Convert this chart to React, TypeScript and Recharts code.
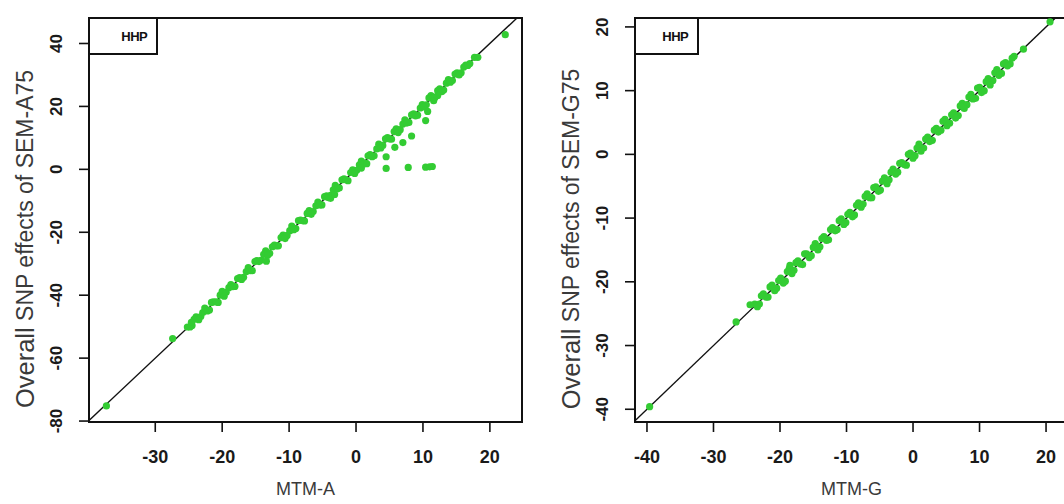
import { ScatterChart, Scatter, XAxis, YAxis, ReferenceLine, ReferenceArea, Label } from 'recharts'

// left panel: MTM-A vs SEM-A75
const mtmA = [
  -25.2, -24.5, -23.9, -23.2, -22.6, -21.9, -21.3, -20.6, -20.0, -19.4, -18.7, -18.1, -17.4, -16.8,
  -16.1, -15.5, -14.8, -14.2, -13.5, -12.9, -12.2, -11.6, -10.9, -10.3, -9.6, -9.0, -8.3, -7.7, -7.0,
  -6.4, -5.7, -5.1, -4.4, -3.8, -3.1, -2.5, -1.8, -1.2, -0.5, 0.1, 0.8, 1.4, 2.1, 2.7, 3.4, 4.0, 4.7,
  5.3, 6.0, 6.6, 7.3, 7.9, 8.6, 9.2, 9.9, 10.5, 11.2, 11.8, 12.5, 13.1, 13.8, 14.4, 15.1, 15.7, 16.4,
  17.0, 17.7,
  -24.8, -24.2, -23.5, -22.9, -22.2, -21.6, -20.9, -20.3, -19.7, -19.0, -18.4, -17.7, -17.1, -16.4,
  -15.8, -15.1, -14.5, -13.8, -13.2, -12.5, -11.9, -11.2, -10.6, -9.9, -9.3, -8.6, -8.0, -7.3, -6.7,
  -6.0, -5.4, -4.7, -4.1, -3.4, -2.8, -2.1, -1.5, -0.8, -0.2, 0.5, 1.1, 1.8, 2.4, 3.1, 3.7, 4.4, 5.0,
  5.7, 6.3, 7.0, 7.6, 8.3, 8.9, 9.6, 10.2, 10.9, 11.5, 12.2, 12.8, 13.5, 14.1, 14.8, 15.4, 16.1, 16.7,
  -37.3, -27.4, -24.6, 22.3, 18.2, 11.6, 12.2,
  4.5, 4.5, 5.8, 7.0, 8.3, 7.8, 10.4, 11.0, 11.4, 10.4, 10.7,
  -3.8, -3.2, -13.4, 0.8, 1.6,
]
const semA75 = [
  -50.1, -49.6, -46.9, -46.8, -44.1, -44.7, -42.1, -42.3, -38.8, -39.1, -36.6, -37.2, -34.4, -34.3,
  -31.2, -32.2, -29.0, -28.9, -25.9, -26.7, -24.1, -24.3, -20.9, -21.0, -18.0, -18.8, -16.1, -16.4, -13.1,
  -13.4, -10.4, -11.3, -8.4, -8.3, -5.1, -5.9, -3.0, -3.6, -0.2, -0.3, 2.6, 2.0, 4.7, 4.3, 8.0, 7.6, 10.1,
  9.6, 12.9, 12.6, 15.7, 14.9, 17.6, 17.2, 20.6, 20.5, 23.4, 22.8, 25.6, 25.2, 28.5, 28.2, 30.7, 30.7, 33.1,
  33.6, 35.6,
  -50.1, -47.7, -47.8, -45.5, -45.0, -42.3, -42.1, -40.0, -40.3, -37.6, -37.3, -34.7, -35.0, -32.5,
  -32.2, -29.3, -29.3, -27.0, -27.3, -24.6, -24.3, -21.7, -22.0, -19.5, -19.2, -16.3, -16.3, -14.0, -14.3,
  -11.6, -11.3, -8.7, -9.0, -6.5, -6.2, -3.3, -3.3, -1.0, -1.3, 1.4, 1.7, 4.3, 4.0, 6.5, 6.8, 9.7, 9.7,
  12.0, 11.7, 14.4, 14.7, 17.3, 17.0, 19.5, 19.8, 22.7, 22.7, 25.0, 24.7, 27.4, 27.7, 30.3, 30.0, 32.5, 33.0,
  -75.2, -53.8, -48.6, 42.8, 35.6, 21.8, 23.5,
  4.0, 0.3, 7.0, 8.5, 10.6, 0.6, 0.7, 0.8, 0.9, 15.5, 18.4,
  -9.2, -8.0, -29.2, 0.4, 1.8,
]

// right panel: MTM-G vs SEM-G75
const mtmG = [
  -23.8, -23.1, -22.5, -21.8, -21.2, -20.5, -19.9, -19.2, -18.6, -17.9, -17.3, -16.6, -16.0, -15.3,
  -14.7, -14.0, -13.4, -12.7, -12.1, -11.4, -10.8, -10.1, -9.5, -8.8, -8.2, -7.5, -6.9, -6.2, -5.6,
  -4.9, -4.3, -3.6, -3.0, -2.3, -1.7, -1.0, -0.4, 0.3, 0.9, 1.6, 2.2, 2.9, 3.5, 4.2, 4.8, 5.5, 6.1,
  6.8, 7.4, 8.1, 8.7, 9.4, 10.0, 10.7, 11.3, 12.0, 12.6, 13.3, 13.9, 14.6, 15.2,
  -23.4, -22.8, -22.1, -21.5, -20.8, -20.2, -19.5, -18.9, -18.2, -17.6, -16.9, -16.3, -15.6, -15.0,
  -14.3, -13.7, -13.0, -12.4, -11.7, -11.1, -10.4, -9.8, -9.1, -8.5, -7.8, -7.2, -6.5, -5.9, -5.2,
  -4.6, -3.9, -3.3, -2.6, -2.0, -1.3, -0.7, 0.0, 0.6, 1.2, 1.9, 2.5, 3.2, 3.8, 4.5, 5.1, 5.8, 6.4,
  7.1, 7.7, 8.4, 9.0, 9.7, 10.3, 11.0, 11.6, 12.3, 12.9, 13.6, 14.2, 14.9,
  -39.6, -26.6, -24.5, -18.5, 16.6, 20.6,
]
const semG75 = [
  -23.5, -23.5, -21.9, -22.4, -20.5, -21.0, -19.4, -19.9, -17.9, -18.2, -16.7, -17.3, -15.6, -15.9,
  -14.0, -14.5, -12.9, -13.4, -11.5, -11.8, -10.1, -10.7, -9.1, -9.5, -7.6, -7.8, -6.2, -6.8, -5.1,
  -5.6, -3.7, -4.0, -2.3, -2.8, -1.3, -1.7, 0.2, -0.2, 1.6, 1.0, 2.7, 2.2, 4.1, 3.8, 5.5, 4.9, 6.5,
  6.1, 8.0, 7.8, 9.4, 8.8, 10.5, 10.0, 11.9, 11.6, 13.3, 12.7, 14.4, 14.2, 15.4,
  -23.9, -22.2, -22.4, -20.8, -21.4, -19.8, -20.2, -18.4, -18.7, -17.0, -17.2, -15.6, -16.2, -14.6,
  -15.0, -13.2, -13.5, -11.8, -12.0, -10.4, -11.0, -9.4, -9.8, -8.0, -8.3, -6.6, -6.8, -5.2, -5.8,
  -4.2, -4.6, -2.8, -3.1, -1.4, -1.6, 0.0, -0.6, 1.0, 0.5, 2.4, 2.0, 3.8, 3.5, 5.2, 4.5, 6.2, 5.7,
  7.6, 7.2, 9.0, 8.7, 10.4, 9.7, 11.4, 10.9, 12.8, 12.4, 14.2, 13.9, 15.1,
  -39.6, -26.3, -23.6, -17.4, 16.5, 20.8,
]

const ticksA = [-30, -20, -10, 0, 10, 20]
const ticksA75 = [-80, -60, -40, -20, 0, 20, 40]
const ticksG = [-40, -30, -20, -10, 0, 10, 20]
const ticksG75 = [-40, -30, -20, -10, 0, 10, 20]

const domA: [number, number] = [-39.9, 24.8]
const domA75: [number, number] = [-80.3, 48.1]
const domG: [number, number] = [-41.8, 23.3]
const domG75: [number, number] = [-42, 21.4]

// reference lines (y = 2x on the left, y = x on the right)
const lineA = [{ x: -39.9, y: -79.8 }, { x: 24.05, y: 48.1 }]
const lineG = [{ x: -41.8, y: -41.8 }, { x: 21.4, y: 21.4 }]

const font = '"Liberation Sans", Arial, sans-serif'
const green = '#33cc33'

const dot = (p: any) => <circle cx={p.cx} cy={p.cy} r={3.6} fill={green} />

function Panel(props: {
  xs: number[]
  ys: number[]
  xDom: [number, number]
  yDom: [number, number]
  xTicks: number[]
  yTicks: number[]
  xTitle: string
  yName: string
  line: { x: number; y: number }[]
  left: number
  marginLeft: number
}) {
  const data = props.xs.map((x, i) => ({ x, y: props.ys[i] }))
  const W = 540
  return (
    <div style={{ position: 'absolute', left: props.left, top: 0 }}>
      <ScatterChart
        width={W}
        height={504}
        margin={{ top: 18, left: props.marginLeft, right: W - props.marginLeft - 60 - 433, bottom: 22 }}
      >
        <XAxis
          type="number"
          dataKey="x"
          domain={props.xDom}
          ticks={props.xTicks}
          allowDataOverflow
          height={60}
          axisLine={false}
          tickSize={10}
          tickLine={{ stroke: '#111', strokeWidth: 1.6 }}
          tick={(t: any) => (
            <text x={t.x} y={t.y + 23} textAnchor="middle" dominantBaseline="central"
              fontSize={18} fontWeight="bold" fill="#1a1a1a" fontFamily={font}>
              {t.payload.value}
            </text>
          )}
        >
          <Label
            content={(p: any) => {
              const vb = p.viewBox
              return (
                <text x={vb.x + vb.width / 2} y={vb.y + 67} textAnchor="middle" dominantBaseline="central"
                  fontSize={18} fill="#3a3a3a" fontFamily={font}>
                  {props.xTitle}
                </text>
              )
            }}
          />
        </XAxis>
        <YAxis
          type="number"
          dataKey="y"
          domain={props.yDom}
          ticks={props.yTicks}
          allowDataOverflow
          width={60}
          axisLine={false}
          tickSize={10}
          tickLine={{ stroke: '#111', strokeWidth: 1.6 }}
          tick={(t: any) => {
            const cx = t.x - 20
            return (
              <text x={cx} y={t.y} transform={`rotate(-90, ${cx}, ${t.y})`} textAnchor="middle"
                dominantBaseline="central" fontSize={17} fontWeight="bold" fill="#1a1a1a" fontFamily={font}>
                {t.payload.value}
              </text>
            )
          }}
        >
          <Label
            content={(p: any) => {
              const vb = p.viewBox
              const cx = vb.x + vb.width - 64
              const cy = vb.y + vb.height / 2 + 19
              return (
                <text x={cx} y={cy} transform={`rotate(-90, ${cx}, ${cy})`} textAnchor="middle"
                  dominantBaseline="central" fill="#3a3a3a" fontFamily={font}>
                  <tspan fontSize={25.5}>Overall</tspan>
                  <tspan fontSize={23}> SNP effects of {props.yName}</tspan>
                </text>
              )
            }}
          />
        </YAxis>
        <Scatter data={data} shape={dot} isAnimationActive={false} />
        <ReferenceLine segment={props.line} stroke="#111" strokeWidth={1.4} ifOverflow="visible" />
        <ReferenceArea
          x1={props.xDom[0]}
          x2={props.xDom[1]}
          y1={props.yDom[0]}
          y2={props.yDom[1]}
          fill="none"
          fillOpacity={0}
          stroke="#111"
          strokeWidth={2}
          ifOverflow="visible"
        />
      </ScatterChart>
    </div>
  )
}

function LegendBox({ left, width }: { left: number; width: number }) {
  return (
    <div
      style={{
        position: 'absolute',
        left,
        top: 17,
        width,
        height: 38,
        border: '2px solid #111',
        boxSizing: 'border-box',
        background: '#fff',
        display: 'flex',
        alignItems: 'center',
        justifyContent: 'flex-end',
        paddingRight: 9,
        fontFamily: font,
        fontWeight: 'bold',
        fontSize: 13,
        color: '#111',
        letterSpacing: -0.6,
      }}
    >
      HHP
    </div>
  )
}

export default function App() {
  return (
    <div
      style={{
        position: 'fixed',
        left: 0,
        top: 0,
        width: 1064,
        height: 504,
        overflow: 'hidden',
        background: '#fff',
      }}
    >
      <Panel xs={mtmA} ys={semA75} xDom={domA} yDom={domA75} xTicks={ticksA} yTicks={ticksA75}
        xTitle="MTM-A" yName="SEM-A75" line={lineA} left={0} marginLeft={29} />
      <Panel xs={mtmG} ys={semG75} xDom={domG} yDom={domG75} xTicks={ticksG} yTicks={ticksG75}
        xTitle="MTM-G" yName="SEM-G75" line={lineG} left={540} marginLeft={35} />
      <LegendBox left={88} width={70} />
      <LegendBox left={634} width={65} />
    </div>
  )
}
